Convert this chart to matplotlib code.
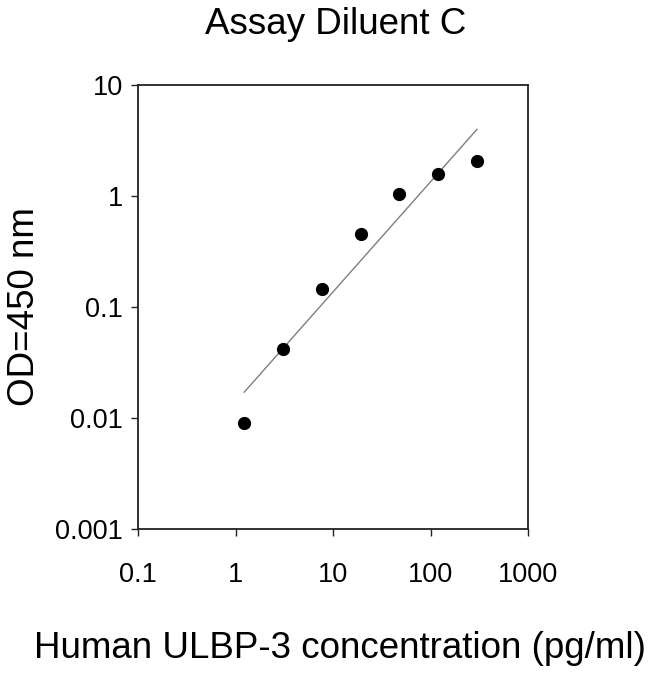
import matplotlib
matplotlib.use("Agg")
import matplotlib.pyplot as plt
import numpy as np

plt.rcParams['font.family'] = ['Liberation Sans', 'DejaVu Sans']

# Standard curve data
conc = [1.23, 3.07, 7.68, 19.2, 48, 120, 300]          # pg/ml
od = [0.0091, 0.042, 0.144, 0.452, 1.05, 1.59, 2.08]   # OD 450 nm
# fitted line end points
fit_x = [1.23, 300]
fit_y = [0.0171, 3.99]

x_ticks = [0.1, 1, 10, 100, 1000]
x_tick_labels = ['0.1', '1', '10', '100', '1000']
y_ticks = [0.001, 0.01, 0.1, 1, 10]
y_tick_labels = ['0.001', '0.01', '0.1', '1', '10']

W, H = 650, 674
fig = plt.figure(figsize=(W / 100, H / 100), dpi=100)
ax = fig.add_axes([138/W, 1 - 529/H, 390/W, 444/H])

ax.plot(fit_x, fit_y, color='#7f7f7f', lw=1.0)
ax.plot(conc, od, 'o', color='black', markersize=8.5)

ax.set_xscale('log')
ax.set_yscale('log')
ax.set_xlim(0.1, 1000)
ax.set_ylim(0.001, 10)
ax.set_xticks(x_ticks)
ax.set_xticklabels(x_tick_labels)
ax.set_yticks(y_ticks)
ax.set_yticklabels(y_tick_labels)
ax.minorticks_off()

for s in ax.spines.values():
    s.set_color('#222222')
    s.set_linewidth(1.3)
ax.tick_params(axis='both', direction='out', length=5, width=1.0, colors='#222222',
               labelcolor='black', labelsize=19.5)
ax.tick_params(axis='x', pad=19)
ax.tick_params(axis='y', pad=6)

# titles / labels placed at pixel positions from the reference
fig.text(336/W, 1 - 25/H, 'Assay Diluent C', fontsize=26.5, ha='center', va='center')
fig.text(340/W, 1 - 648/H, 'Human ULBP-3 concentration (pg/ml)', fontsize=26.5,
         ha='center', va='center')
fig.text(25/W, 1 - 307/H, 'OD=450 nm', fontsize=26.5, rotation=90,
         ha='center', va='center')

fig.savefig('out.png', dpi=100)
